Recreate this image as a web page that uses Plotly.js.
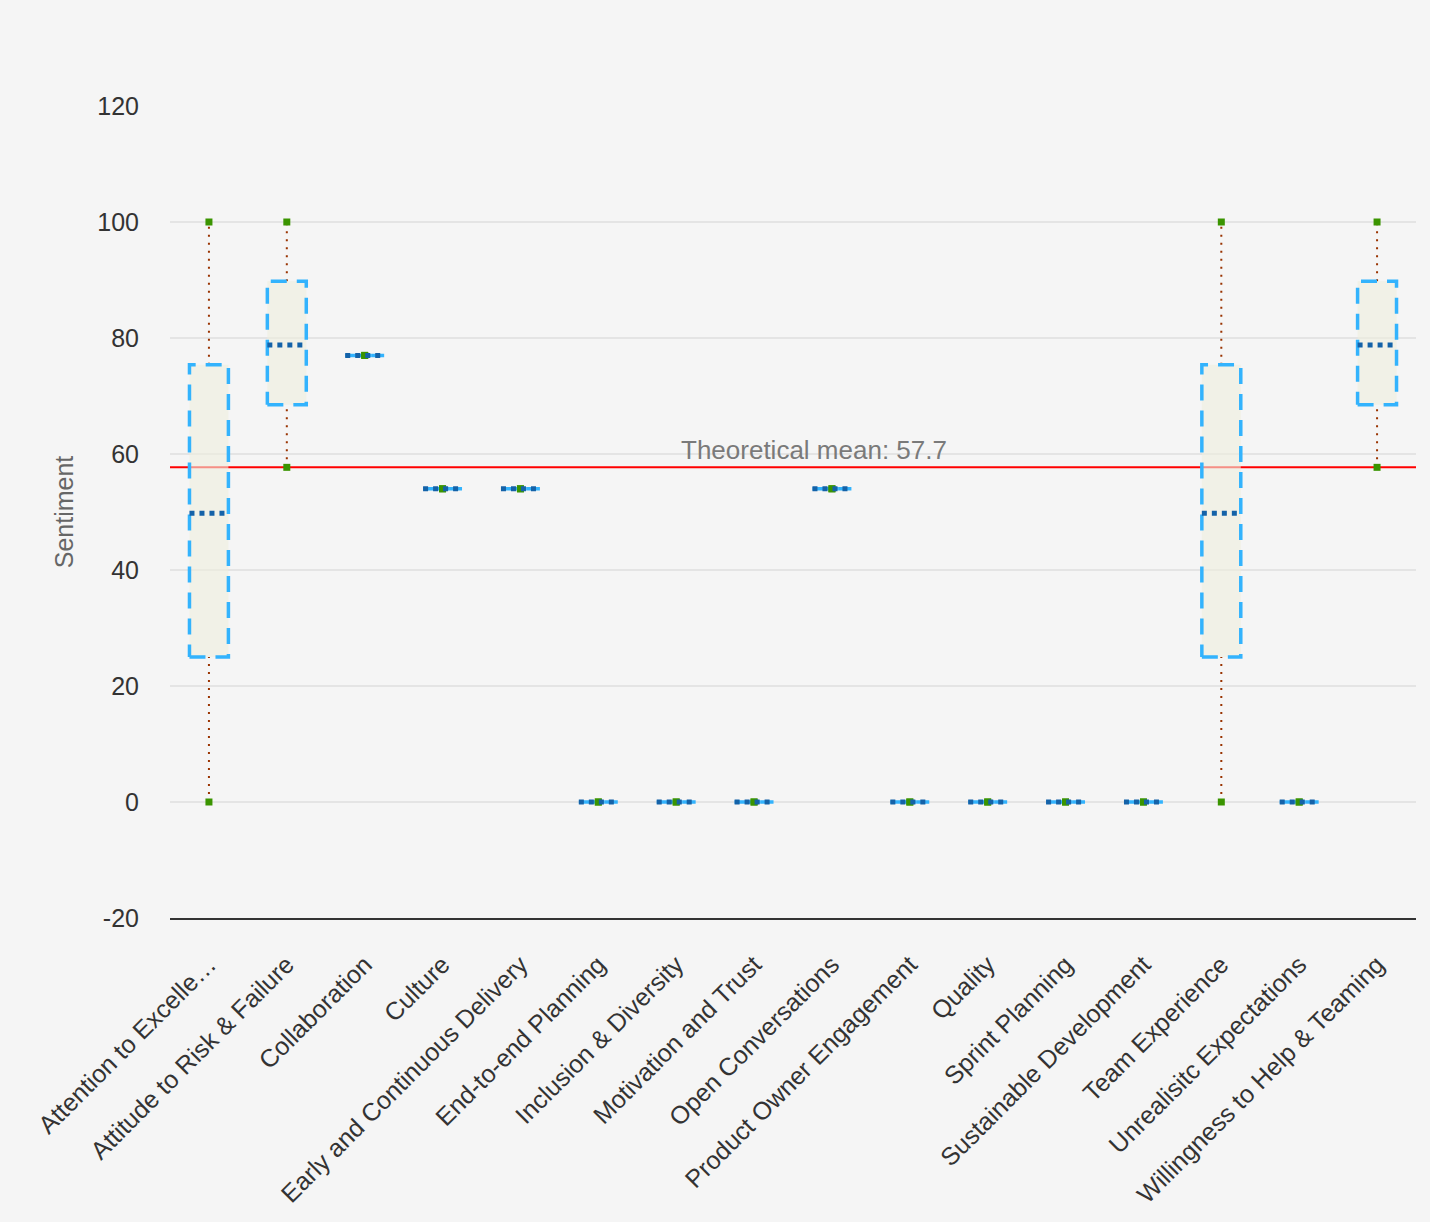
<!DOCTYPE html>
<html>
<head>
<meta charset="utf-8">
<script src="https://cdn.plot.ly/plotly-3.0.1.min.js"></script>
<style>
  html, body { margin: 0; padding: 0; background: #f5f5f5; }
  #chart { width: 1430px; height: 1222px; }
</style>
</head>
<body>
<div id="chart"></div>
<script>
const categories = [
  "Attention to Excellence", "Attitude to Risk & Failure", "Collaboration", "Culture",
  "Early and Continuous Delivery", "End-to-end Planning", "Inclusion & Diversity",
  "Motivation and Trust", "Open Conversations", "Product Owner Engagement", "Quality",
  "Sprint Planning", "Sustainable Development", "Team Experience",
  "Unrealisitc Expectations", "Willingness to Help & Teaming"
];
const tickLabels = [
  "Attention to Excelle…", "Attitude to Risk & Failure", "Collaboration", "Culture",
  "Early and Continuous Delivery", "End-to-end Planning", "Inclusion & Diversity",
  "Motivation and Trust", "Open Conversations", "Product Owner Engagement", "Quality",
  "Sprint Planning", "Sustainable Development", "Team Experience",
  "Unrealisitc Expectations", "Willingness to Help & Teaming"
];
const yTickValues = [-20, 0, 20, 40, 60, 80, 100, 120];
const yTickLabels = ["-20", "0", "20", "40", "60", "80", "100", "120"];
const lowValues    = [0,    57.7, 77, 54, 54, 0, 0, 0, 54, 0, 0, 0, 0, 0,    0, 57.7];
const q1Values     = [25,   68.5, 77, 54, 54, 0, 0, 0, 54, 0, 0, 0, 0, 25,   0, 68.5];
const medianValues = [49.8, 78.8, 77, 54, 54, 0, 0, 0, 54, 0, 0, 0, 0, 49.8, 0, 78.8];
const q3Values     = [75.4, 89.8, 77, 54, 54, 0, 0, 0, 54, 0, 0, 0, 0, 75.4, 0, 89.8];
const highValues   = [100,  100,  77, 54, 54, 0, 0, 0, 54, 0, 0, 0, 0, 100,  0, 100];
const THEORETICAL_MEAN = 57.7;

const HW = 0.25; // box half width in category units
const boxX = [], boxY = [], medX = [], medY = [], whX = [], whY = [], ptX = [], ptY = [];
categories.forEach((c, i) => {
  boxX.push(i - HW, i + HW, i + HW, i - HW, i - HW, null);
  boxY.push(q1Values[i], q1Values[i], q3Values[i], q3Values[i], q1Values[i], null);
  medX.push(i - HW, i + HW, null);
  medY.push(medianValues[i], medianValues[i], null);
  if (lowValues[i] < q1Values[i]) { whX.push(i, i, null); whY.push(lowValues[i], q1Values[i], null); }
  if (highValues[i] > q3Values[i]) { whX.push(i, i, null); whY.push(q3Values[i], highValues[i], null); }
  ptX.push(i, i);
  ptY.push(lowValues[i], highValues[i]);
});

const traces = [
  { type: 'scatter', mode: 'lines', x: whX, y: whY, hoverinfo: 'skip',
    line: { color: '#993300', width: 2, dash: '2px,6px' } },
  { type: 'scatter', mode: 'lines', x: boxX, y: boxY, fill: 'toself',
    fillcolor: 'rgba(238,238,222,0.6)', hoverinfo: 'skip',
    line: { color: '#33b3fd', width: 3.5, dash: '16px,10px' } },
  { type: 'scatter', mode: 'markers', x: ptX, y: ptY,
    marker: { symbol: 'square', size: 7, color: '#3a9400' } },
  { type: 'scatter', mode: 'lines', x: medX, y: medY, hoverinfo: 'skip',
    line: { color: '#1462a8', width: 5, dash: 'dot' } }
];

const layout = {
  width: 1430, height: 1222,
  paper_bgcolor: '#f5f5f5', plot_bgcolor: '#f5f5f5',
  margin: { l: 170, r: 14, t: 106, b: 304 },
  showlegend: false,
  font: { family: 'Liberation Sans, Arial, sans-serif', color: '#333' },
  xaxis: {
    range: [-0.5, 15.5], tickvals: categories.map((c, i) => i), ticktext: tickLabels,
    tickangle: -45, showgrid: false, zeroline: false, showline: true,
    linecolor: '#333', linewidth: 2, ticks: '', ticklabelstandoff: 20,
    tickfont: { size: 25, color: '#333' }
  },
  yaxis: {
    range: [-20, 120], tickvals: yTickValues, ticktext: yTickLabels,
    showgrid: true, gridcolor: '#e4e4e4', gridwidth: 2,
    zeroline: false, ticks: '', ticklabelstandoff: 30,
    tickfont: { size: 25, color: '#333' },
    title: { text: 'Sentiment', standoff: 16, font: { size: 25, color: '#666' } }
  },
  shapes: [{
    type: 'line', xref: 'paper', x0: 0, x1: 1, yref: 'y', y0: THEORETICAL_MEAN, y1: THEORETICAL_MEAN,
    line: { color: '#ff0000', width: 2 }, layer: 'below'
  }],
  annotations: [{
    xref: 'paper', x: 0.517, yref: 'y', y: THEORETICAL_MEAN, yanchor: 'bottom', yshift: 0,
    text: 'Theoretical mean: ' + THEORETICAL_MEAN, showarrow: false,
    font: { size: 26, color: '#7a7a7a' }
  }]
};

Plotly.newPlot('chart', traces, layout, { displayModeBar: false, staticPlot: true });
</script>
</body>
</html>
